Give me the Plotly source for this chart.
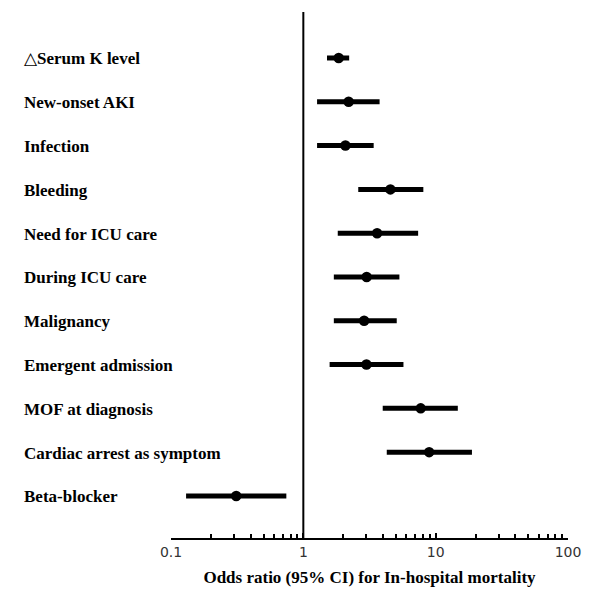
import plotly.graph_objects as go

labels = ["△Serum K level", "New-onset AKI", "Infection", "Bleeding",
          "Need for ICU care", "During ICU care", "Malignancy",
          "Emergent admission", "MOF at diagnosis",
          "Cardiac arrest as symptom", "Beta-blocker"]
odds = [1.85, 2.20, 2.08, 4.55, 3.61, 3.01, 2.88, 3.00, 7.71, 8.93, 0.311]
lower = [1.51, 1.27, 1.27, 2.60, 1.82, 1.70, 1.70, 1.58, 3.98, 4.27, 0.130]
upper = [2.22, 3.77, 3.40, 8.07, 7.37, 5.32, 5.08, 5.71, 14.7, 18.8, 0.744]

tick_vals = [0.1, 1, 10, 100]
tick_text = ["0.1", "1", "10", "100"]

fig = go.Figure()
fig.add_trace(go.Scatter(
    x=odds, y=labels, mode="markers",
    marker=dict(color="black", size=10.5, symbol="circle"),
    error_x=dict(type="data", symmetric=False,
                 array=[u - o for u, o in zip(upper, odds)],
                 arrayminus=[o - l for o, l in zip(odds, lower)],
                 thickness=5, width=0, color="black"),
    showlegend=False, hoverinfo="skip"))


def fmt(lab):
    if lab.startswith("△"):
        return "△<b>" + lab[1:] + "</b>"
    return "<b>" + lab + "</b>"


for lab in labels:
    fig.add_annotation(x=0, xref="paper", xshift=-149, y=lab, yref="y", yshift=-1,
                       text=fmt(lab), showarrow=False,
                       xanchor="left", yanchor="middle",
                       font=dict(family="Liberation Serif", size=17, color="black"))

fig.add_shape(type="line", x0=1, x1=1, xref="x", y0=0, y1=1, yref="paper",
              line=dict(color="black", width=2))

fig.update_xaxes(type="log", range=[-1, 2], tickvals=tick_vals, ticktext=tick_text,
                 ticks="inside", ticklen=5, tickwidth=1.5, tickcolor="black",
                 minor=dict(ticks="inside", ticklen=4, tickwidth=1.5, tickcolor="black",
                            dtick="D1", showgrid=False),
                 showline=True, linecolor="black", linewidth=2,
                 showgrid=False, zeroline=False,
                 tickfont=dict(family="DejaVu Sans", size=14, color="#333"),
                 title=dict(text="<b>Odds ratio (95% CI) for In-hospital mortality</b>",
                            font=dict(family="Liberation Serif", size=17, color="black"),
                            standoff=12))
fig.update_yaxes(type="category", categoryorder="array", categoryarray=labels,
                 range=[10.96, -1.05], showticklabels=False, showgrid=False,
                 zeroline=False, showline=False, ticks="")

fig.update_layout(width=592, height=597, plot_bgcolor="white", paper_bgcolor="white",
                  margin=dict(l=163, r=32, t=4, b=67))

fig.write_html("out.html")
